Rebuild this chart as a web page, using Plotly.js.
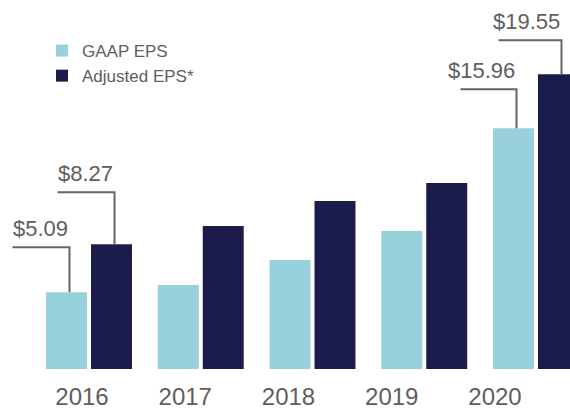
<!DOCTYPE html>
<html>
<head>
<meta charset="utf-8">
<script src="https://cdn.plot.ly/plotly-3.0.1.min.js"></script>
<style>html,body{margin:0;padding:0;background:#fff;}#chart{width:570px;height:411px;}</style>
</head>
<body>
<div id="chart"></div>
<script>
// ---- data ----
const years = ["2016", "2017", "2018", "2019", "2020"];
const gaapEPS = [5.09, 5.57, 7.23, 9.15, 15.96];
const adjustedEPS = [8.27, 9.48, 11.14, 12.33, 19.55];
const seriesNames = ["GAAP EPS", "Adjusted EPS*"];

// ---- style ----
const FONT = "Liberation Sans, Arial, Helvetica, sans-serif";
const GRAY = "#5e5e5e";
const C_GAAP = "#98d1dc";
const C_ADJ = "#1b1c4b";
const PX_X = 111.75;   // px per category
const PX_Y = 15.08;    // px per EPS unit
const SLOT = 0.2013;   // half-group offset (category units)

// leader callouts: which bar, rise above bar (px), horizontal length (px)
const callouts = [
  {series: 0, idx: 0, rise: 45, len: 57},
  {series: 1, idx: 0, rise: 52, len: 57},
  {series: 0, idx: 4, rise: 39, len: 56},
  {series: 1, idx: 4, rise: 34, len: 63}
];

const traces = [
  {type: "bar", name: seriesNames[0], x: years, y: gaapEPS, marker: {color: C_GAAP}, hoverinfo: "skip"},
  {type: "bar", name: seriesNames[1], x: years, y: adjustedEPS, marker: {color: C_ADJ}, hoverinfo: "skip"},
  {type: "scatter", mode: "markers", x: [0,1,2,3,4], y: [0,0,0,0,0], xaxis: "x2",
   marker: {opacity: 0}, showlegend: false, hoverinfo: "skip"}
];

const shapes = [];
const annotations = [];
const seriesVals = [gaapEPS, adjustedEPS];
callouts.forEach(c => {
  const v = seriesVals[c.series][c.idx];
  const xc = c.idx + (c.series === 0 ? -SLOT : SLOT) + 3 / PX_X;
  const yl = v + c.rise / PX_Y;
  const x0 = xc - c.len / PX_X;
  shapes.push({type: "path", xref: "x", yref: "y",
    path: `M ${x0} ${yl} L ${xc} ${yl} L ${xc} ${v}`,
    line: {color: "#666666", width: 2}});
  annotations.push({xref: "x", yref: "y", x: xc, y: yl, xanchor: "right", yanchor: "bottom",
    yshift: 4, showarrow: false, text: "$" + v.toFixed(2),
    font: {family: FONT, size: 22, color: GRAY}});
});

const layout = {
  width: 570, height: 411,
  margin: {l: 0, r: 0, t: 0, b: 42},
  paper_bgcolor: "#ffffff", plot_bgcolor: "#ffffff",
  barmode: "group", bargap: 0.195, bargroupgap: 0.089,
  showlegend: true,
  legend: {x: 42 / 570, y: 1 - 33 / 369, xanchor: "left", yanchor: "top",
    font: {family: FONT, size: 17, color: GRAY}, traceorder: "normal",
    bgcolor: "rgba(0,0,0,0)", tracegroupgap: 0},
  xaxis: {type: "category", range: [-89 / PX_X, 4 + 34 / PX_X], showticklabels: false,
    showgrid: false, zeroline: false, showline: false, ticks: "", fixedrange: true},
  xaxis2: {type: "linear", overlaying: "x", anchor: "y", side: "bottom",
    range: [-82 / 103.25, 4 + 75 / 103.25], tickmode: "array", tickvals: [0,1,2,3,4], ticktext: years,
    tickfont: {family: FONT, size: 24, color: GRAY}, ticklabelstandoff: 11, showgrid: false, zeroline: false,
    showline: false, ticks: "", fixedrange: true},
  yaxis: {range: [0, 369 / PX_Y], visible: false, fixedrange: true},
  shapes: shapes,
  annotations: annotations
};

Plotly.newPlot("chart", traces, layout, {staticPlot: true, displayModeBar: false});
</script>
</body>
</html>
